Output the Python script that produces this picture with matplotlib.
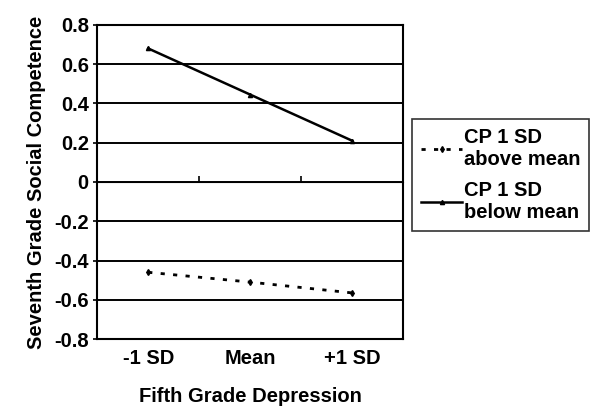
import matplotlib.pyplot as plt

plt.rcParams['font.family'] = ['Liberation Sans', 'DejaVu Sans']
plt.rcParams['font.weight'] = 'bold'
plt.rcParams['axes.labelweight'] = 'bold'

groups = ["-1 SD", "Mean", "+1 SD"]
cp_above = [-0.46, -0.51, -0.565]
cp_below = [0.68, 0.445, 0.21]
yticks = [-0.8, -0.6, -0.4, -0.2, 0, 0.2, 0.4, 0.6, 0.8]
ylabels = ["-0.8", "-0.6", "-0.4", "-0.2", "0", "0.2", "0.4", "0.6", "0.8"]

FS = 14.5

fig = plt.figure(figsize=(6, 4.15), dpi=100)
ax = fig.add_axes([0.162, 0.183, 0.51, 0.757])

x = range(len(groups))
ax.plot(x, cp_above, color="black", lw=2, linestyle=(0, (1.5, 3)),
        marker="d", markersize=3, label="CP 1 SD\nabove mean")
ax.plot(x, cp_below, color="black", lw=1.8,
        marker="^", markersize=3, label="CP 1 SD\nbelow mean")

ax.set_xlim(-0.5, 2.5)
ax.set_ylim(-0.8, 0.8)
ax.set_yticks(yticks)
ax.set_yticklabels(ylabels, fontsize=FS)
ax.set_xticks(list(x))
ax.set_xticklabels(groups, fontsize=FS)
ax.tick_params(axis="x", length=0, pad=7)
ax.tick_params(axis="y", length=3, width=1.2, pad=3)
ax.yaxis.grid(True, color="black", lw=1.4)
ax.set_axisbelow(True)
for s in ax.spines.values():
    s.set_linewidth(1.5)

# category divider ticks on the zero line
sec = ax.secondary_xaxis(0.5)
sec.set_xticks([0.5, 1.5])
sec.set_xticklabels([])
sec.tick_params(length=4, width=1.2, direction="out")
sec.spines["bottom"].set_linewidth(1.8)

ax.set_xlabel("Fifth Grade Depression", fontsize=FS, labelpad=14)
ax.set_ylabel("Seventh Grade Social Competence", fontsize=FS, labelpad=6)

leg = ax.legend(loc="upper left", bbox_to_anchor=(1.03, 0.7), fontsize=FS,
                frameon=True, fancybox=False, handlelength=2.0,
                handletextpad=0.1, borderpad=0.45, labelspacing=0.6,
                borderaxespad=0)
leg.get_frame().set_edgecolor("black")
leg.get_frame().set_linewidth(1.2)

fig.savefig("out.png", dpi=100)
